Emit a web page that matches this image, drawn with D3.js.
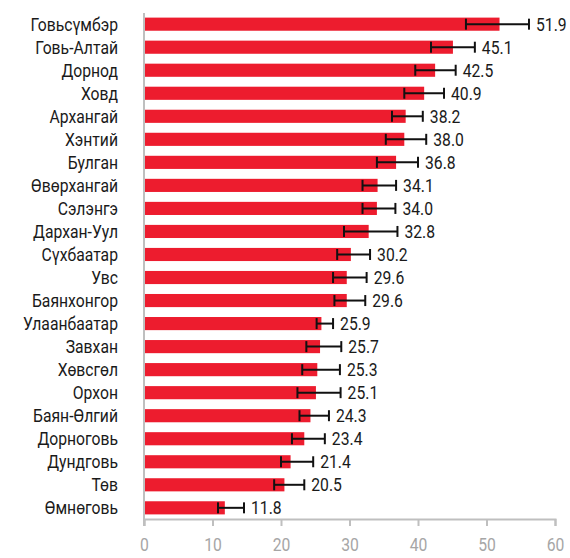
<!DOCTYPE html>
<html>
<head>
<meta charset="utf-8">
<script src="https://cdn.jsdelivr.net/npm/d3@7"></script>
<style>
  body { margin: 0; background: #fff; }
  text { font-family: "Roboto", "Liberation Sans", sans-serif; font-weight: 400; }
</style>
</head>
<body>
<div class="barChart"></div>
<script>
var aimags = ["Говьсүмбэр", "Говь-Алтай", "Дорнод", "Ховд", "Архангай", "Хэнтий", "Булган",
  "Өвөрхангай", "Сэлэнгэ", "Дархан-Уул", "Сүхбаатар", "Увс", "Баянхонгор", "Улаанбаатар",
  "Завхан", "Хөвсгөл", "Орхон", "Баян-Өлгий", "Дорноговь", "Дундговь", "Төв", "Өмнөговь"];
var values = [51.9, 45.1, 42.5, 40.9, 38.2, 38.0, 36.8, 34.1, 34.0, 32.8, 30.2, 29.6, 29.6, 25.9,
  25.7, 25.3, 25.1, 24.3, 23.4, 21.4, 20.5, 11.8];
var lowErr = [47.0, 41.9, 39.6, 38.0, 36.2, 35.3, 34.0, 31.9, 31.9, 29.2, 28.2, 27.6, 27.8, 25.2,
  23.7, 23.1, 22.4, 22.7, 21.6, 20.0, 19.0, 10.8];
var highErr = [56.2, 48.3, 45.5, 43.8, 40.7, 41.2, 40.0, 36.8, 36.7, 37.0, 33.0, 32.5, 32.3, 27.6,
  28.8, 28.6, 28.7, 27.0, 26.4, 24.7, 23.4, 14.6];
var xTicks = [0, 10, 20, 30, 40, 50, 60];

var svgWidth = 570, svgHeight = 558;
var margin = { top: 13, right: 15, bottom: 39, left: 144 };
var width = svgWidth - margin.left - margin.right;
var height = svgHeight - margin.top - margin.bottom;
var squeeze = 0.85; // labels use a condensed face in the original

var data = aimags.map((d, i) => ({ name: d, value: values[i], lo: lowErr[i], hi: highErr[i] }));

var svg = d3.select(".barChart").append("svg")
  .attr("width", svgWidth)
  .attr("height", svgHeight);

var chartGroup = svg.append("g")
  .attr("transform", `translate(${margin.left}, ${margin.top})`);

var xScale = d3.scaleLinear().domain([0, 60]).range([0, 411]);
var yScale = d3.scaleBand().domain(aimags).range([0, height]).paddingInner(0.43).paddingOuter(0.2);

// bars
chartGroup.selectAll("rect.bar")
  .data(data).enter()
  .append("rect")
  .classed("bar", true)
  .attr("x", 0)
  .attr("y", d => yScale(d.name))
  .attr("width", d => xScale(d.value))
  .attr("height", yScale.bandwidth())
  .style("fill", "#ed1c2e");

// error bars
var errGroup = chartGroup.append("g").attr("stroke", "#111").attr("stroke-width", 2);
var capH = 11;
data.forEach(d => {
  var cy = yScale(d.name) + yScale.bandwidth() / 2;
  errGroup.append("line").attr("x1", xScale(d.lo)).attr("x2", xScale(d.hi)).attr("y1", cy).attr("y2", cy);
  errGroup.append("line").attr("x1", xScale(d.lo)).attr("x2", xScale(d.lo)).attr("y1", cy - capH / 2).attr("y2", cy + capH / 2);
  errGroup.append("line").attr("x1", xScale(d.hi)).attr("x2", xScale(d.hi)).attr("y1", cy - capH / 2).attr("y2", cy + capH / 2);
});

// value labels
chartGroup.append("g").selectAll("text")
  .data(data).enter()
  .append("text")
  .attr("transform", d => `translate(${xScale(d.hi) + 7}, ${yScale(d.name) + yScale.bandwidth() / 2}) scale(${squeeze}, 1)`)
  .attr("dy", "0.36em")
  .style("font-size", "18.5px")
  .style("fill", "#1a1a1a")
  .text(d => d.value.toFixed(1));

// category labels
chartGroup.append("g").selectAll("text")
  .data(data).enter()
  .append("text")
  .attr("transform", d => `translate(-26, ${yScale(d.name) + yScale.bandwidth() / 2}) scale(${squeeze}, 1)`)
  .attr("dy", "0.36em")
  .attr("text-anchor", "end")
  .style("font-size", "18.5px")
  .style("fill", "#1a1a1a")
  .text(d => d.name);

// x axis
var xAxis = chartGroup.append("g")
  .attr("transform", `translate(0, ${height})`)
  .call(d3.axisBottom(xScale).tickValues(xTicks).tickSize(7).tickPadding(12));
xAxis.select(".domain").attr("stroke", "#bfbfbf").attr("stroke-width", 2);
xAxis.selectAll(".tick line").attr("stroke", "#bfbfbf").attr("stroke-width", 2);
xAxis.selectAll(".tick text")
  .attr("transform", `scale(${squeeze}, 1)`)
  .attr("x", 0)
  .style("font-size", "18.5px")
  .style("fill", "#a6a6a6")
  .style("font-family", "Roboto, sans-serif");

// left axis line
chartGroup.append("line")
  .attr("x1", 0).attr("x2", 0)
  .attr("y1", 0).attr("y2", height + 7)
  .attr("stroke", "#bfbfbf")
  .attr("stroke-width", 2);
</script>
</body>
</html>
